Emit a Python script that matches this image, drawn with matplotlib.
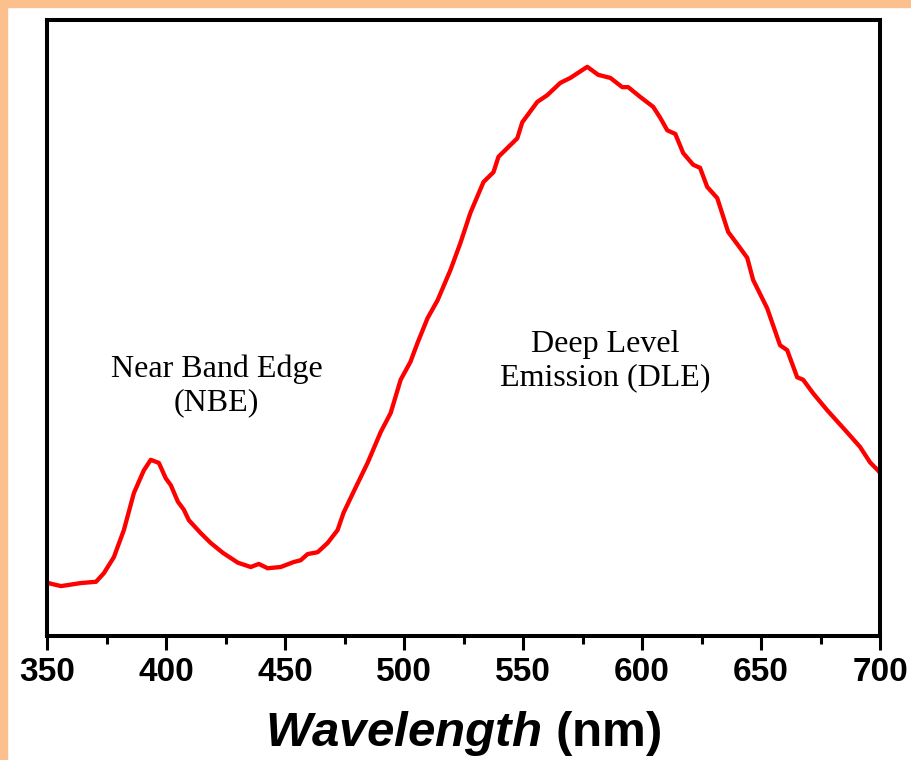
import matplotlib.pyplot as plt
from matplotlib.patches import Rectangle
from matplotlib.ticker import MultipleLocator

plt.rcParams['mathtext.fontset'] = 'custom'
plt.rcParams['mathtext.bfit'] = 'Liberation Sans:italic:bold'
plt.rcParams['mathtext.rm'] = 'Liberation Sans:bold'

# PL spectrum (intensity in a.u.)
wavelength = [350.0, 350.4, 355.9, 364.3, 370.6, 373.9, 378.1, 382.3, 386.5, 390.7,
              393.6, 397.0, 399.9, 402.0, 405.0, 407.5, 409.6, 414.6, 418.8, 423.9,
              430.2, 435.6, 439.0, 442.7, 448.2, 453.6, 456.6, 459.5, 463.7, 467.9,
              472.1, 474.6, 478.8, 484.7, 490.2, 494.4, 498.6, 502.7, 505.7, 509.9,
              514.1, 519.5, 523.7, 527.9, 533.4, 537.6, 539.7, 547.6, 549.7, 556.0,
              560.2, 565.7, 569.9, 577.0, 581.6, 586.7, 591.7, 594.2, 599.3, 604.7,
              607.7, 610.6, 614.0, 617.3, 621.5, 624.4, 627.4, 631.6, 636.2, 641.2,
              644.2, 646.7, 652.6, 658.0, 661.0, 665.2, 667.7, 671.9, 677.7, 686.1,
              691.6, 695.8, 699.1, 700.0]
intensity = [88, 86, 81, 86, 88, 102, 128, 172, 232, 269,
             286, 281, 256, 245, 218, 205, 188, 167, 151, 135,
             119, 112, 117, 110, 112, 120, 123, 133, 136, 151,
             172, 200, 234, 281, 331, 362, 416, 445, 476, 516,
             545, 594, 638, 687, 737, 753, 778, 808, 834, 867,
             878, 898, 906, 924, 911, 906, 891, 891, 875, 859,
             841, 821, 815, 784, 765, 760, 729, 711, 656, 630,
             614, 578, 532, 472, 464, 420, 416, 394, 367, 331,
             307, 282, 269, 265]

xticks = [350, 400, 450, 500, 550, 600, 650, 700]

fig = plt.figure(figsize=(9.12, 7.6), dpi=100)
border = '#fbc08d'
fig.patches.append(Rectangle((0, 0), 7 / 912, 1, transform=fig.transFigure,
                             color=border, zorder=0))
fig.patches.append(Rectangle((0, 1 - 7 / 760), 1, 7 / 760, transform=fig.transFigure,
                             color=border, zorder=0))

ax = fig.add_axes([47 / 912, 1 - 636 / 760, (880 - 47) / 912, (636 - 20) / 760])
ax.plot(wavelength, intensity, color='#ff0000', lw=3.1, solid_joinstyle='round')

ax.set_xlim(350, 700)
ax.set_ylim(0, 1000)
ax.set_xticks(xticks)
ax.xaxis.set_minor_locator(MultipleLocator(25))
ax.set_yticks([])
for s in ax.spines.values():
    s.set_linewidth(2.9)

ax.tick_params(axis='x', which='major', length=10, width=2.2, pad=5, direction='out')
ax.tick_params(axis='x', which='minor', length=6, width=2.2, direction='out')
for lab in ax.get_xticklabels():
    lab.set_fontfamily('Liberation Sans')
    lab.set_fontweight('bold')
    lab.set_fontsize(24)

ax.set_xlabel(r'$\mathbfit{Wavelength}$ (nm)', fontsize=35.5, fontweight='bold',
              fontfamily='Liberation Sans', labelpad=15)

ax.text(421.3, 406, 'Near Band Edge\n(NBE)', fontfamily='Liberation Serif',
        fontsize=23, ha='center', va='center', multialignment='center', linespacing=1.2)
ax.text(584.6, 446, 'Deep Level\nEmission (DLE)', fontfamily='Liberation Serif',
        fontsize=23, ha='center', va='center', multialignment='center', linespacing=1.2)

fig.savefig('out.png', dpi=100)
